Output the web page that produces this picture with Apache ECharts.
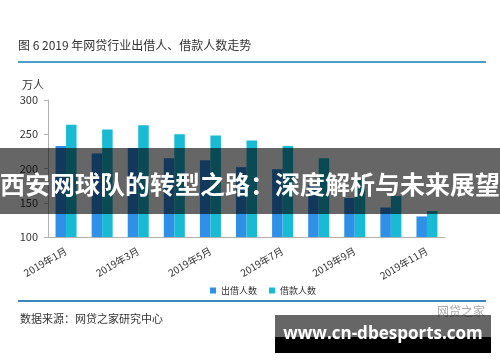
<!DOCTYPE html>
<html>
<head>
<meta charset="utf-8">
<script src="https://cdn.jsdelivr.net/npm/echarts@6/dist/echarts.min.js"></script>
<style>html,body{margin:0;padding:0;background:#fff}#c{width:500px;height:362px}</style>
</head>
<body>
<div id="c"></div>
<script>
const categories = ['2019年1月','2019年2月','2019年3月','2019年4月','2019年5月','2019年6月','2019年7月','2019年8月','2019年9月','2019年10月','2019年11月'];
const lenders = [233, 222, 230, 215, 212, 202, 199, 176, 157, 143, 130];
const borrowers = [264, 257, 263, 250, 248, 241, 233, 215, 185, 160, 138];
const yTicks = [100, 150, 200, 250, 300];
const seriesNames = ['出借人数', '借款人数'];
const titleText = '图 6 2019 年网贷行业出借人、借款人数走势';
const unitText = '万人';
const sourceText = '数据来源：网贷之家研究中心';
const bannerText = '西安网球队的转型之路：深度解析与未来展望';
const siteText = 'www.cn-dbesports.com';
const markText = '网贷之家';

const FONT = '"Microsoft YaHei","Noto Sans CJK SC","Noto Sans",sans-serif';
const chart = echarts.init(document.getElementById('c'), null, {renderer: 'canvas'});
chart.setOption({
  backgroundColor: '#fff',
  animation: false,
  textStyle: {fontFamily: FONT},
  grid: {left: 48, right: 55, top: 100, bottom: 125},
  legend: {
    data: seriesNames, left: 205, top: 281, itemWidth: 6, itemHeight: 6, itemGap: 12,
    icon: 'rect', textStyle: {fontSize: 9, color: '#333', fontFamily: FONT}
  },
  xAxis: {
    type: 'category', data: categories,
    axisLine: {lineStyle: {color: '#b0b0b0'}},
    axisTick: {interval: 1, length: 4, lineStyle: {color: '#b0b0b0'}},
    axisLabel: {interval: 1, rotate: 30, fontSize: 10, color: '#333', margin: 13, fontFamily: FONT}
  },
  yAxis: {
    type: 'value', min: yTicks[0], max: yTicks[yTicks.length-1], interval: 50,
    name: unitText, nameLocation: 'end', nameGap: 10,
    nameTextStyle: {fontSize: 11, color: '#333', align: 'right', padding: [0, 4, 0, 0], fontFamily: FONT},
    axisLine: {show: true, lineStyle: {color: '#b0b0b0'}},
    axisTick: {show: true, length: 4, lineStyle: {color: '#b0b0b0'}},
    splitLine: {show: false},
    axisLabel: {fontSize: 11, color: '#333', margin: 10, fontFamily: FONT}
  },
  series: [
    {name: seriesNames[0], type: 'bar', data: lenders, barWidth: 10.5, barGap: '0%', itemStyle: {color: '#2e90e6'}},
    {name: seriesNames[1], type: 'bar', data: borrowers, barWidth: 10.5, barGap: '0%', itemStyle: {color: '#18bad4'}}
  ],
  graphic: [
    {type: 'text', left: 18, top: 39, style: {text: titleText, fontSize: 12, fill: '#333', fontFamily: FONT}},
    {type: 'rect', shape: {x: 18, y: 61, width: 468, height: 2}, style: {fill: '#4a9ec6'}},
    {type: 'rect', shape: {x: 18, y: 300, width: 468, height: 2}, style: {fill: '#3d86bb'}},
    {type: 'text', left: 20, top: 313, style: {text: sourceText, fontSize: 11, fill: '#333', fontFamily: FONT}},
    {type: 'text', left: 437, top: 305, style: {text: markText, fontSize: 12, fill: '#aaa', fontFamily: FONT}},
    {type: 'rect', z: 100, shape: {x: 0, y: 148, width: 500, height: 66}, style: {fill: 'rgba(0,0,0,0.6)'}},
    {type: 'text', z: 101, x: 250, y: 184, style: {text: bannerText, fontSize: 25, fontWeight: 'bold', fill: '#fff', align: 'center', verticalAlign: 'middle', fontFamily: '"Noto Sans CJK SC",sans-serif'}},
    {type: 'rect', z: 100, shape: {x: 275, y: 315, width: 216, height: 22}, style: {fill: 'rgba(0,0,0,0.6)'}},
    {type: 'rect', z: 100, shape: {x: 275, y: 337, width: 216, height: 16}, style: {fill: '#000'}},
    {type: 'text', z: 101, x: 383, y: 334, style: {text: siteText, fontSize: 17, fontWeight: 'bold', fill: '#fff', align: 'center', verticalAlign: 'middle', fontFamily: '"Open Sans","DejaVu Sans",sans-serif'}}
  ]
});
</script>
</body>
</html>
